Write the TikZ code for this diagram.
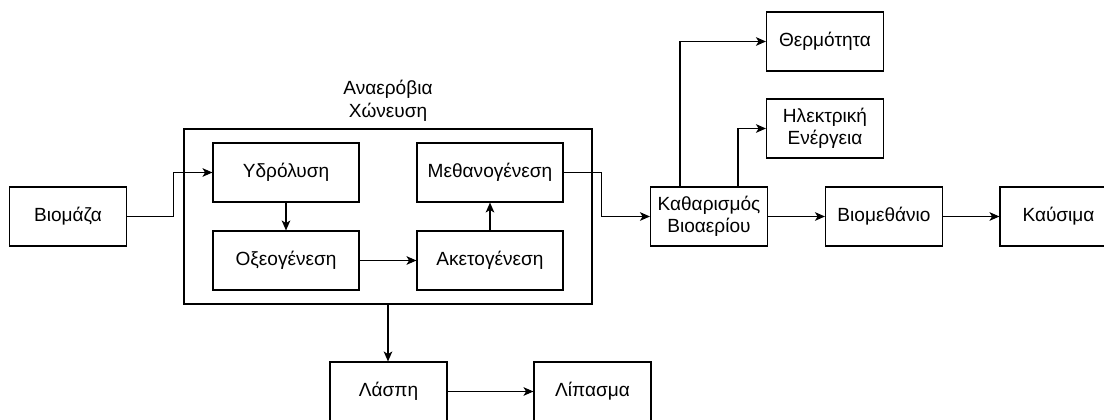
\documentclass[tikz,border=0pt]{standalone}
\usepackage{fontspec}
\setmainfont{Liberation Sans}
\usetikzlibrary{arrows.meta}

\begin{document}
\begin{tikzpicture}[x=0.75pt, y=-0.75pt, line join=miter,
    box/.style={draw, line width=0.85pt, minimum width=87.75pt, minimum height=44.25pt,
                align=center, inner sep=1pt, font=\fontsize{14.3}{16.5}\selectfont},
    stage/.style={box, minimum width=109.5pt},
    arr/.style={-{Stealth[length=7.5pt,width=6.5pt,inset=2pt]}, line width=0.85pt}]
  \useasboundingbox (0,0) rectangle (1104,420);
  \clip (0,0) rectangle (1104,420);
  % anaerobic digestion frame
  \node[draw, line width=0.85pt, minimum width=306pt, minimum height=131.25pt] (ana) at (388,216.5) {};
  \node[align=center, anchor=south, inner sep=0pt, yshift=5pt,
        font=\fontsize{14.3}{17}\selectfont] (analbl) at (ana.north) {Αναερόβια\\Χώνευση};
  % process boxes
  \node[box] (bio)  at (68,216.5)   {Βιομάζα};
  \node[stage] (ydr)  at (286,172.5)  {Υδρόλυση};
  \node[stage] (oxe)  at (286,260.5)  {Οξεογένεση};
  \node[stage] (meth) at (490,172.5)  {Μεθανογένεση};
  \node[stage] (ake)  at (490,260.5)  {Ακετογένεση};
  \node[box] (kath) at (709,216.5)  {Καθαρισμός\\Βιοαερίου};
  \node[box] (therm) at (825,41.5)  {Θερμότητα};
  \node[box] (ilek) at (825,128.5)  {Ηλεκτρική\\Ενέργεια};
  \node[box] (bme)  at (884,216.5)  {Βιομεθάνιο};
  \node[box] (kau)  at (1058.5,216.5) {Καύσιμα};
  \node[box] (lasti) at (388.5,391.5) {Λάσπη};
  \node[box] (lip)  at (592.5,391.5) {Λίπασμα};
  % connectors
  \draw[arr] (bio.east) -- ++(46,0) |- (ydr.west);
  \draw[arr] (ydr) -- (oxe);
  \draw[arr] (oxe) -- (ake);
  \draw[arr] (ake) -- (meth);
  \draw[arr] (meth.east) -- ++(38,0) |- (kath.west);
  \draw[arr] ([xshift=-21.75pt]kath.north) |- (therm.west);
  \draw[arr] ([xshift=21.75pt]kath.north) |- (ilek.west);
  \draw[arr] (kath) -- (bme);
  \draw[arr] (bme) -- (kau);
  \draw[arr] (ana.south) -- (ana.south |- lasti.north);
  \draw[arr] (lasti) -- (lip);
\end{tikzpicture}
\end{document}
